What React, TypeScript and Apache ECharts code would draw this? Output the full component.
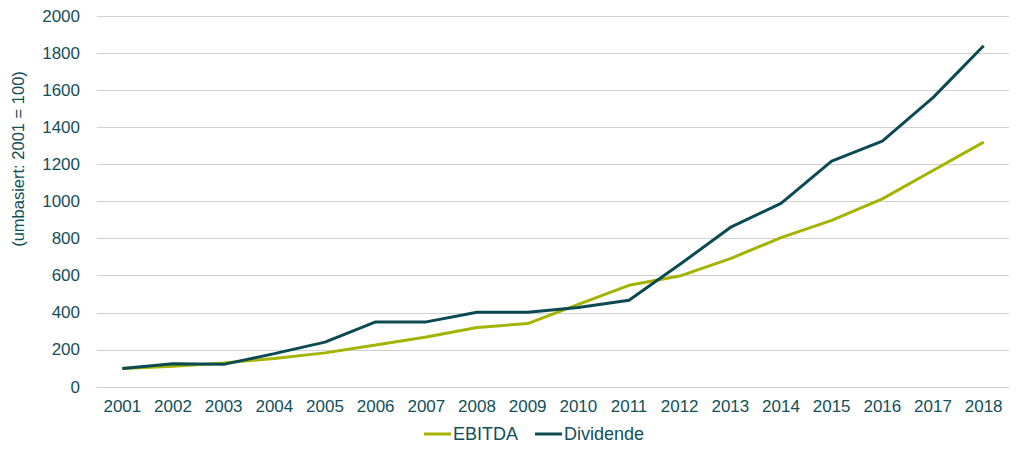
import React, { useEffect, useRef } from "react";
import * as echarts from "echarts";

const years = ["2001","2002","2003","2004","2005","2006","2007","2008","2009","2010","2011","2012","2013","2014","2015","2016","2017","2018"];
const ebitda = [100, 112, 130, 154, 184, 226, 270, 321, 342, 445, 548, 598, 692, 805, 898, 1014, 1167, 1320];
const dividende = [100, 125, 122, 180, 242, 351, 351, 403, 403, 428, 468, 660, 860, 990, 1218, 1325, 1560, 1840];

const FONT = "'Liberation Sans', Arial, sans-serif";
const TEXT = "#124f57";

export default function App() {
  const ref = useRef<HTMLDivElement>(null);
  useEffect(() => {
    document.body.style.margin = "0";
    const chart = echarts.init(ref.current!, undefined, { renderer: "svg" });
    chart.setOption({
      animation: false,
      backgroundColor: "#ffffff",
      grid: { left: 97, right: 15, top: 16, bottom: 71, containLabel: false },
      xAxis: {
        type: "category",
        data: years,
        boundaryGap: true,
        axisLine: { show: true, lineStyle: { color: "#d0d0d0", width: 1 } },
        axisTick: { show: false },
        axisLabel: { color: TEXT, fontSize: 17, fontFamily: FONT, margin: 11, interval: 0 },
      },
      yAxis: {
        type: "value",
        min: 0,
        max: 2000,
        interval: 200,
        axisLine: { show: false },
        axisTick: { show: false },
        axisLabel: { color: TEXT, fontSize: 17, fontFamily: FONT, margin: 17, formatter: (v: number) => String(v) },
        splitLine: { lineStyle: { color: "#d0d0d0", width: 1 } },
      },
      legend: {
        bottom: 10,
        left: 419,
        icon: "rect",
        itemWidth: 27,
        itemHeight: 3,
        itemGap: 17,
        textStyle: { color: TEXT, fontSize: 18, fontFamily: FONT, padding: [0, 0, 0, -3] },
        data: ["EBITDA", "Dividende"],
      },
      graphic: [
        {
          type: "text",
          x: 18,
          y: 159,
          rotation: Math.PI / 2,
          style: {
            text: "(umbasiert: 2001 = 100)",
            fill: TEXT,
            fontSize: 16.5,
            fontFamily: FONT,
            align: "center",
            verticalAlign: "middle",
          },
        },
      ],
      series: [
        {
          name: "EBITDA",
          type: "line",
          data: ebitda,
          symbol: "none",
          lineStyle: { color: "#a5b300", width: 3 },
          itemStyle: { color: "#a5b300" },
        },
        {
          name: "Dividende",
          type: "line",
          data: dividende,
          symbol: "none",
          lineStyle: { color: "#0b4a52", width: 3 },
          itemStyle: { color: "#0b4a52" },
        },
      ],
    });
    return () => chart.dispose();
  }, []);
  return <div ref={ref} style={{ position: "fixed", left: 0, top: 0, width: 1024, height: 458 }} />;
}
